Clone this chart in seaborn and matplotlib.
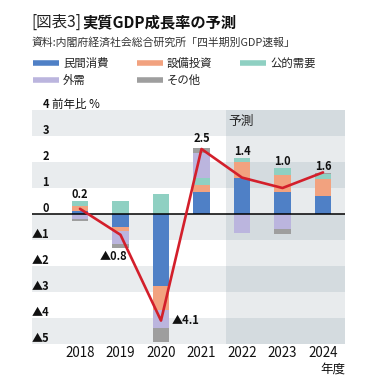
import numpy as np
import matplotlib
matplotlib.use("Agg")
import matplotlib.pyplot as plt
from matplotlib.lines import Line2D
import seaborn as sns

sns.set_theme(style="white")
plt.rcParams['font.family'] = ['Noto Sans CJK JP', 'DejaVu Sans']

years = ['2018', '2019', '2020', '2021', '2022', '2023', '2024']
gdp = [0.2, -0.8, -4.1, 2.5, 1.4, 1.0, 1.6]
gdp_labels = ['0.2', '▲0.8', '▲4.1', '2.5', '1.4', '1.0', '1.6']

# contributions
consumption = [0.10, -0.49, -2.77, 0.86, 1.37, 0.83, 0.69]
capex = [0.19, -0.18, -0.92, 0.27, 0.62, 0.67, 0.65]
public = [0.20, 0.50, 0.77, 0.26, 0.15, 0.26, 0.20]
external = [-0.19, -0.49, -0.69, 0.95, -0.74, -0.58, 0.0]
other = [-0.07, -0.13, -0.54, 0.19, 0.0, -0.19, 0.04]

names = ['民間消費', '設備投資', '公的需要', '外需', 'その他']
colors = ['#4f80c6', '#f2a27f', '#8fd0c2', '#bbb5de', '#9e9e9e']
ticks_y = [4, 3, 2, 1, 0, -1, -2, -3, -4, -5]

fig = plt.figure(figsize=(3.77, 3.89), dpi=100)
ax = fig.add_axes([32 / 377, 45 / 389, 313 / 377, 234 / 389])
x = np.arange(len(years))
xlim = (-1.185, 6.543)
fc_start = 3.6
frac = (fc_start - xlim[0]) / (xlim[1] - xlim[0])

# background bands
for k in range(-5, 4):
    shaded = k % 2 == 1
    ax.axhspan(k, k + 1, xmin=0, xmax=frac, color='#e9ecee' if shaded else 'white', lw=0, zorder=0)
    ax.axhspan(k, k + 1, xmin=frac, xmax=1, color='#d4dbdf' if shaded else '#e8ebed', lw=0, zorder=0)

# stacked bars
pos_base = np.zeros(len(years))
neg_base = np.zeros(len(years))
for vals, c in zip([consumption, capex, public, external, other], colors):
    v = np.array(vals)
    bottom = np.where(v >= 0, pos_base, neg_base)
    ax.bar(x, v, width=0.4, bottom=bottom, color=c, lw=0, zorder=2)
    pos_base += np.where(v >= 0, v, 0)
    neg_base += np.where(v < 0, v, 0)

ax.axhline(0, color='black', lw=1.1, zorder=3)
sns.lineplot(x=x, y=gdp, ax=ax, color='#d31f2b', lw=1.9, zorder=4)

# value labels
lab_kw = dict(fontsize=8, fontweight='bold', color='#111111', zorder=5)
for i in [0, 3, 4, 5, 6]:
    off = 0.37 if i == 3 else 0.26
    ax.text(x[i], pos_base[i] + off, gdp_labels[i], ha='center', va='center', **lab_kw)
ax.text(1.17, neg_base[1] - 0.34, gdp_labels[1], ha='right', va='center', **lab_kw)
ax.text(2.27, gdp[2], gdp_labels[2], ha='left', va='center', **lab_kw)

# y labels inside the plot
for t in ticks_y:
    s = str(t) if t >= 0 else '▲' + str(-t)
    ax.text(-0.765, t + 0.23, s, ha='right', va='center', fontsize=8, fontweight='bold', color='#111111')
ax.text(-0.70, 4.23, '前年比 %', ha='left', va='center', fontsize=8.3, color='#111111', clip_on=False)
ax.text(3.66, 3.55, '予測', ha='left', va='center', fontsize=9.2, color='#222222')

ax.set_xlim(*xlim)
ax.set_ylim(-5, 4)
ax.set_xticks(x, years)
ax.set_yticks([])
ax.tick_params(axis='x', length=0, pad=1.5, labelsize=9.6, labelcolor='#111111')
for sp in ax.spines.values():
    sp.set_visible(False)
ax.set_facecolor('white')
fig.text(345 / 377, 1 - 369 / 389, '年度', ha='right', va='center', fontsize=9, color='#111111')

# title
fig.text(31 / 377, 1 - 22 / 389, '[図表3]', ha='left', va='center', fontsize=11.2, color='#222222')
fig.text(82 / 377, 1 - 22 / 389, '実質GDP成長率の予測', ha='left', va='center', fontsize=11,
         fontweight='bold', color='#111111')
fig.text(32 / 377, 1 - 43 / 389, '資料:内閣府経済社会総合研究所「四半期別GDP速報」', ha='left', va='center',
         fontsize=7.8, color='#333333')

# legend
leg_pos = [(33, 63), (137, 63), (240, 63), (33, 80), (137, 80)]
for (px, py), n, c in zip(leg_pos, names, colors):
    fy = 1 - py / 389
    fig.add_artist(Line2D([px / 377, (px + 26) / 377], [fy, fy], color=c, lw=4, solid_capstyle='butt',
                          transform=fig.transFigure))
    fig.text((px + 30) / 377, fy, n, ha='left', va='center', fontsize=8.2, color='#222222')

fig.savefig('out.png', dpi=100)
